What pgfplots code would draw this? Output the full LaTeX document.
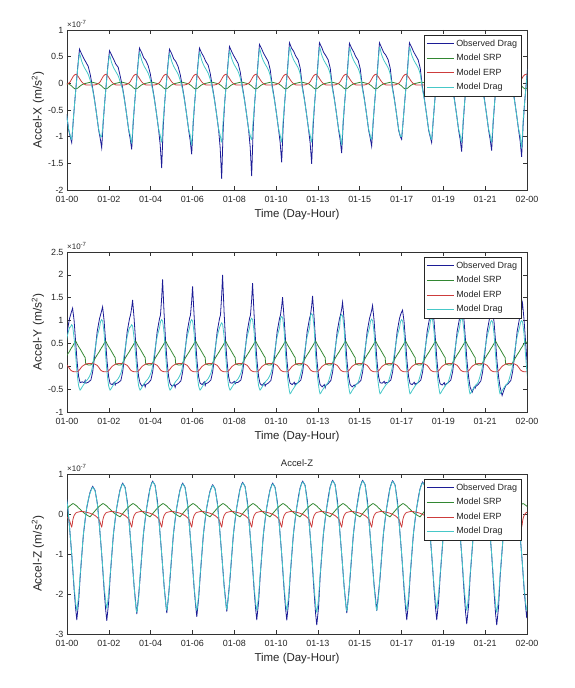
\documentclass[border=0pt]{standalone}
\usepackage{pgfplots}
\pgfplotsset{compat=1.18}
\usepackage{pgfplotstable}
\usepackage{fontspec}
\setmainfont{Liberation Sans}
\definecolor{cObs}{RGB}{28,28,150}
\definecolor{cSRP}{RGB}{50,135,50}
\definecolor{cERP}{RGB}{205,60,60}
\definecolor{cMod}{RGB}{70,200,200}

% u = orbit number (time axis), values in 1e-7 m/s^2
\pgfplotstableread{
u obs mod srp erp
-0.17 -0.58 -0.58 0.00 -0.02
-0.10 -0.88 -0.86 -0.01 0.00
-0.05 -1.00 -0.97 -0.03 0.03
0.00 -1.11 -1.05 -0.05 0.08
0.05 -0.72 -0.70 -0.08 0.13
0.10 -0.36 -0.36 -0.10 0.16
0.15 -0.03 -0.04 -0.10 0.17
0.20 0.30 0.27 -0.09 0.14
0.26 0.64 0.55 -0.06 0.09
0.33 0.55 0.42 -0.03 0.03
0.40 0.47 0.32 -0.01 -0.01
0.47 0.40 0.25 0.00 -0.03
0.55 0.32 0.17 0.01 -0.03
0.62 0.16 0.05 0.02 -0.03
0.69 -0.06 -0.10 0.02 -0.03
0.76 -0.30 -0.32 0.01 -0.03
0.83 -0.58 -0.58 0.00 -0.02
0.90 -0.88 -0.86 -0.01 0.00
0.95 -1.03 -0.97 -0.03 0.03
1.00 -1.21 -1.00 -0.05 0.08
1.05 -0.74 -0.70 -0.08 0.13
1.10 -0.36 -0.36 -0.10 0.16
1.15 -0.03 -0.04 -0.10 0.17
1.20 0.30 0.27 -0.09 0.14
1.26 0.61 0.52 -0.06 0.09
1.33 0.53 0.39 -0.03 0.03
1.40 0.45 0.29 -0.01 -0.01
1.47 0.36 0.22 0.00 -0.03
1.55 0.30 0.14 0.01 -0.03
1.62 0.13 0.02 0.02 -0.03
1.69 -0.06 -0.10 0.02 -0.03
1.76 -0.30 -0.32 0.01 -0.03
1.83 -0.58 -0.58 0.00 -0.02
1.90 -0.88 -0.86 -0.01 0.00
1.95 -1.04 -0.97 -0.03 0.03
2.00 -1.24 -1.12 -0.05 0.08
2.05 -0.75 -0.70 -0.08 0.13
2.10 -0.36 -0.36 -0.10 0.16
2.15 -0.03 -0.04 -0.10 0.17
2.20 0.30 0.27 -0.09 0.14
2.26 0.66 0.57 -0.06 0.09
2.33 0.58 0.44 -0.03 0.03
2.40 0.48 0.34 -0.01 -0.01
2.47 0.43 0.27 0.00 -0.03
2.55 0.33 0.19 0.01 -0.03
2.62 0.18 0.07 0.02 -0.03
2.69 -0.06 -0.10 0.02 -0.03
2.76 -0.30 -0.32 0.01 -0.03
2.83 -0.58 -0.58 0.00 -0.02
2.90 -0.88 -0.86 -0.01 0.00
2.95 -1.15 -0.97 -0.03 0.03
3.00 -1.59 -1.10 -0.05 0.08
3.05 -0.82 -0.70 -0.08 0.13
3.10 -0.36 -0.36 -0.10 0.16
3.15 -0.03 -0.04 -0.10 0.17
3.20 0.30 0.27 -0.09 0.14
3.26 0.64 0.55 -0.06 0.09
3.33 0.56 0.42 -0.03 0.03
3.40 0.46 0.32 -0.01 -0.01
3.47 0.41 0.25 0.00 -0.03
3.55 0.31 0.17 0.01 -0.03
3.62 0.16 0.05 0.02 -0.03
3.69 -0.06 -0.10 0.02 -0.03
3.76 -0.30 -0.32 0.01 -0.03
3.83 -0.58 -0.58 0.00 -0.02
3.90 -0.88 -0.86 -0.01 0.00
3.95 -1.07 -0.97 -0.03 0.03
4.00 -1.33 -1.15 -0.05 0.08
4.05 -0.77 -0.70 -0.08 0.13
4.10 -0.36 -0.36 -0.10 0.16
4.15 -0.03 -0.04 -0.10 0.17
4.20 0.30 0.27 -0.09 0.14
4.26 0.66 0.57 -0.06 0.09
4.33 0.57 0.44 -0.03 0.03
4.40 0.50 0.34 -0.01 -0.01
4.47 0.41 0.27 0.00 -0.03
4.55 0.34 0.19 0.01 -0.03
4.62 0.18 0.07 0.02 -0.03
4.69 -0.06 -0.10 0.02 -0.03
4.76 -0.30 -0.32 0.01 -0.03
4.83 -0.58 -0.58 0.00 -0.02
4.90 -0.88 -0.86 -0.01 0.00
4.95 -1.21 -0.97 -0.03 0.03
5.00 -1.79 -1.10 -0.05 0.08
5.05 -0.86 -0.70 -0.08 0.13
5.10 -0.36 -0.36 -0.10 0.16
5.15 -0.03 -0.04 -0.10 0.17
5.20 0.30 0.27 -0.09 0.14
5.26 0.69 0.60 -0.06 0.09
5.33 0.60 0.47 -0.03 0.03
5.40 0.52 0.37 -0.01 -0.01
5.47 0.45 0.30 0.00 -0.03
5.55 0.37 0.22 0.01 -0.03
5.62 0.21 0.10 0.02 -0.03
5.69 -0.06 -0.10 0.02 -0.03
5.76 -0.30 -0.32 0.01 -0.03
5.83 -0.58 -0.58 0.00 -0.02
5.90 -0.88 -0.86 -0.01 0.00
5.95 -1.19 -0.97 -0.03 0.03
6.00 -1.74 -1.05 -0.05 0.08
6.05 -0.85 -0.70 -0.08 0.13
6.10 -0.36 -0.36 -0.10 0.16
6.15 -0.03 -0.04 -0.10 0.17
6.20 0.30 0.27 -0.09 0.14
6.26 0.73 0.64 -0.06 0.09
6.33 0.65 0.51 -0.03 0.03
6.40 0.56 0.41 -0.01 -0.01
6.47 0.49 0.34 0.00 -0.03
6.55 0.41 0.26 0.01 -0.03
6.62 0.25 0.14 0.02 -0.03
6.69 -0.06 -0.10 0.02 -0.03
6.76 -0.30 -0.32 0.01 -0.03
6.83 -0.58 -0.58 0.00 -0.02
6.90 -0.88 -0.86 -0.01 0.00
6.95 -1.11 -0.97 -0.03 0.03
7.00 -1.48 -1.10 -0.05 0.08
7.05 -0.80 -0.70 -0.08 0.13
7.10 -0.36 -0.36 -0.10 0.16
7.15 -0.03 -0.04 -0.10 0.17
7.20 0.30 0.27 -0.09 0.14
7.26 0.76 0.67 -0.06 0.09
7.33 0.66 0.54 -0.03 0.03
7.40 0.60 0.44 -0.01 -0.01
7.47 0.51 0.37 0.00 -0.03
7.55 0.44 0.29 0.01 -0.03
7.62 0.28 0.17 0.02 -0.03
7.69 -0.06 -0.10 0.02 -0.03
7.76 -0.30 -0.32 0.01 -0.03
7.83 -0.58 -0.58 0.00 -0.02
7.90 -0.88 -0.86 -0.01 0.00
7.95 -1.12 -0.97 -0.03 0.03
8.00 -1.51 -1.10 -0.05 0.08
8.05 -0.80 -0.70 -0.08 0.13
8.10 -0.36 -0.36 -0.10 0.16
8.15 -0.03 -0.04 -0.10 0.17
8.20 0.30 0.27 -0.09 0.14
8.26 0.76 0.67 -0.06 0.09
8.33 0.68 0.54 -0.03 0.03
8.40 0.58 0.44 -0.01 -0.01
8.47 0.52 0.37 0.00 -0.03
8.55 0.44 0.29 0.01 -0.03
8.62 0.28 0.17 0.02 -0.03
8.69 -0.06 -0.10 0.02 -0.03
8.76 -0.30 -0.32 0.01 -0.03
8.83 -0.58 -0.58 0.00 -0.02
8.90 -0.88 -0.86 -0.01 0.00
8.95 -1.06 -0.97 -0.03 0.03
9.00 -1.31 -1.15 -0.05 0.08
9.05 -0.76 -0.70 -0.08 0.13
9.10 -0.36 -0.36 -0.10 0.16
9.15 -0.03 -0.04 -0.10 0.17
9.20 0.30 0.27 -0.09 0.14
9.26 0.75 0.66 -0.06 0.09
9.33 0.66 0.53 -0.03 0.03
9.40 0.59 0.43 -0.01 -0.01
9.47 0.50 0.36 0.00 -0.03
9.55 0.43 0.28 0.01 -0.03
9.62 0.27 0.16 0.02 -0.03
9.69 -0.06 -0.10 0.02 -0.03
9.76 -0.30 -0.32 0.01 -0.03
9.83 -0.58 -0.58 0.00 -0.02
9.90 -0.88 -0.86 -0.01 0.00
9.95 -1.02 -0.97 -0.03 0.03
10.00 -1.18 -1.05 -0.05 0.08
10.05 -0.74 -0.70 -0.08 0.13
10.10 -0.36 -0.36 -0.10 0.16
10.15 -0.03 -0.04 -0.10 0.17
10.20 0.30 0.27 -0.09 0.14
10.26 0.76 0.67 -0.06 0.09
10.33 0.67 0.54 -0.03 0.03
10.40 0.58 0.44 -0.01 -0.01
10.47 0.53 0.37 0.00 -0.03
10.55 0.44 0.29 0.01 -0.03
10.62 0.28 0.17 0.02 -0.03
10.69 -0.06 -0.10 0.02 -0.03
10.76 -0.30 -0.32 0.01 -0.03
10.83 -0.58 -0.58 0.00 -0.02
10.90 -0.88 -0.86 -0.01 0.00
10.95 -0.99 -0.97 -0.03 0.03
11.00 -1.05 -1.00 -0.05 0.08
11.05 -0.71 -0.70 -0.08 0.13
11.10 -0.36 -0.36 -0.10 0.16
11.15 -0.03 -0.04 -0.10 0.17
11.20 0.30 0.27 -0.09 0.14
11.26 0.76 0.67 -0.06 0.09
11.33 0.68 0.54 -0.03 0.03
11.40 0.59 0.44 -0.01 -0.01
11.47 0.52 0.37 0.00 -0.03
11.55 0.44 0.29 0.01 -0.03
11.62 0.28 0.17 0.02 -0.03
11.69 -0.06 -0.10 0.02 -0.03
11.76 -0.30 -0.32 0.01 -0.03
11.83 -0.58 -0.58 0.00 -0.02
11.90 -0.88 -0.86 -0.01 0.00
11.95 -1.00 -0.97 -0.03 0.03
12.00 -1.11 -1.05 -0.05 0.08
12.05 -0.72 -0.70 -0.08 0.13
12.10 -0.36 -0.36 -0.10 0.16
12.15 -0.03 -0.04 -0.10 0.17
12.20 0.30 0.27 -0.09 0.14
12.26 0.72 0.63 -0.06 0.09
12.33 0.63 0.50 -0.03 0.03
12.40 0.56 0.40 -0.01 -0.01
12.47 0.47 0.33 0.00 -0.03
12.55 0.40 0.25 0.01 -0.03
12.62 0.24 0.13 0.02 -0.03
12.69 -0.06 -0.10 0.02 -0.03
12.76 -0.30 -0.32 0.01 -0.03
12.83 -0.58 -0.58 0.00 -0.02
12.90 -0.88 -0.86 -0.01 0.00
12.95 -1.05 -0.97 -0.03 0.03
13.00 -1.28 -1.10 -0.05 0.08
13.05 -0.76 -0.70 -0.08 0.13
13.10 -0.36 -0.36 -0.10 0.16
13.15 -0.03 -0.04 -0.10 0.17
13.20 0.30 0.27 -0.09 0.14
13.26 0.70 0.61 -0.06 0.09
13.33 0.62 0.48 -0.03 0.03
13.40 0.52 0.38 -0.01 -0.01
13.47 0.47 0.31 0.00 -0.03
13.55 0.38 0.23 0.01 -0.03
13.62 0.22 0.11 0.02 -0.03
13.69 -0.06 -0.10 0.02 -0.03
13.76 -0.30 -0.32 0.01 -0.03
13.83 -0.58 -0.58 0.00 -0.02
13.90 -0.88 -0.86 -0.01 0.00
13.95 -1.05 -0.97 -0.03 0.03
14.00 -1.26 -1.10 -0.05 0.08
14.05 -0.75 -0.70 -0.08 0.13
14.10 -0.36 -0.36 -0.10 0.16
14.15 -0.03 -0.04 -0.10 0.17
14.20 0.30 0.27 -0.09 0.14
14.26 0.70 0.61 -0.06 0.09
14.33 0.61 0.48 -0.03 0.03
14.40 0.54 0.38 -0.01 -0.01
14.47 0.45 0.31 0.00 -0.03
14.55 0.38 0.23 0.01 -0.03
14.62 0.22 0.11 0.02 -0.03
14.69 -0.06 -0.10 0.02 -0.03
14.76 -0.30 -0.32 0.01 -0.03
14.83 -0.58 -0.58 0.00 -0.02
14.90 -0.88 -0.86 -0.01 0.00
14.95 -1.08 -0.97 -0.03 0.03
15.00 -1.38 -1.20 -0.05 0.08
15.05 -0.78 -0.70 -0.08 0.13
15.10 -0.36 -0.36 -0.10 0.16
15.15 -0.03 -0.04 -0.10 0.17
15.20 0.30 0.27 -0.09 0.14
}\tabX

\pgfplotstableread{
u obs mod srp erp
-0.24 0.20 0.30 0.15 0.05
-0.15 0.76 0.65 0.25 0.02
-0.07 1.05 0.85 0.33 -0.05
-0.04 1.12 0.86 0.37 -0.08
0.00 1.21 0.91 0.41 -0.10
0.03 1.27 0.88 0.44 -0.11
0.08 1.00 0.61 0.50 -0.12
0.13 0.55 0.25 0.55 -0.12
0.18 0.10 -0.15 0.49 -0.12
0.23 -0.22 -0.42 0.43 -0.10
0.28 -0.36 -0.52 0.38 -0.06
0.35 -0.34 -0.45 0.30 0.00
0.42 -0.36 -0.38 0.22 0.03
0.45 -0.31 -0.35 0.19 0.04
0.47 -0.37 -0.33 0.05 0.05
0.55 -0.35 -0.27 0.03 0.06
0.64 -0.30 -0.15 0.03 0.06
0.70 -0.12 0.02 0.08 0.06
0.76 0.20 0.30 0.15 0.05
0.85 0.76 0.65 0.25 0.02
0.93 1.05 0.85 0.33 -0.05
0.96 1.12 0.97 0.37 -0.08
1.00 1.22 1.02 0.41 -0.10
1.03 1.30 0.99 0.44 -0.11
1.08 1.00 0.72 0.50 -0.12
1.13 0.55 0.25 0.55 -0.12
1.18 0.10 -0.15 0.49 -0.12
1.23 -0.22 -0.42 0.43 -0.10
1.28 -0.38 -0.52 0.38 -0.06
1.35 -0.40 -0.45 0.30 0.00
1.42 -0.35 -0.38 0.22 0.03
1.45 -0.41 -0.35 0.19 0.04
1.47 -0.38 -0.33 0.05 0.05
1.55 -0.36 -0.27 0.03 0.06
1.64 -0.31 -0.15 0.03 0.06
1.70 -0.12 0.02 0.08 0.06
1.76 0.20 0.30 0.15 0.05
1.85 0.76 0.65 0.25 0.02
1.93 1.05 0.85 0.33 -0.05
1.96 1.12 0.86 0.37 -0.08
2.00 1.28 0.91 0.41 -0.10
2.03 1.45 0.88 0.44 -0.11
2.08 1.05 0.61 0.50 -0.12
2.13 0.55 0.25 0.55 -0.12
2.18 0.10 -0.15 0.49 -0.12
2.23 -0.22 -0.42 0.43 -0.10
2.28 -0.37 -0.52 0.38 -0.06
2.35 -0.44 -0.45 0.30 0.00
2.42 -0.38 -0.38 0.22 0.03
2.45 -0.45 -0.35 0.19 0.04
2.47 -0.40 -0.33 0.05 0.05
2.55 -0.37 -0.27 0.03 0.06
2.64 -0.30 -0.15 0.03 0.06
2.70 -0.12 0.02 0.08 0.06
2.76 0.20 0.30 0.15 0.05
2.85 0.76 0.65 0.25 0.02
2.93 1.05 0.85 0.33 -0.05
2.96 1.12 0.97 0.37 -0.08
3.00 1.50 1.02 0.41 -0.10
3.03 1.90 0.99 0.44 -0.11
3.08 1.16 0.72 0.50 -0.12
3.13 0.55 0.25 0.55 -0.12
3.18 0.10 -0.15 0.49 -0.12
3.23 -0.22 -0.42 0.43 -0.10
3.28 -0.38 -0.52 0.38 -0.06
3.35 -0.44 -0.45 0.30 0.00
3.42 -0.40 -0.38 0.22 0.03
3.45 -0.46 -0.35 0.19 0.04
3.47 -0.41 -0.33 0.05 0.05
3.55 -0.38 -0.27 0.03 0.06
3.64 -0.32 -0.15 0.03 0.06
3.70 -0.12 0.02 0.08 0.06
3.76 0.20 0.30 0.15 0.05
3.85 0.76 0.65 0.25 0.02
3.93 1.05 0.85 0.33 -0.05
3.96 1.12 0.97 0.37 -0.08
4.00 1.43 1.02 0.41 -0.10
4.03 1.75 0.99 0.44 -0.11
4.08 1.12 0.72 0.50 -0.12
4.13 0.55 0.25 0.55 -0.12
4.18 0.10 -0.15 0.49 -0.12
4.23 -0.22 -0.42 0.43 -0.10
4.28 -0.37 -0.52 0.38 -0.06
4.35 -0.40 -0.45 0.30 0.00
4.42 -0.34 -0.38 0.22 0.03
4.45 -0.42 -0.35 0.19 0.04
4.47 -0.38 -0.33 0.05 0.05
4.55 -0.36 -0.27 0.03 0.06
4.64 -0.30 -0.15 0.03 0.06
4.70 -0.12 0.02 0.08 0.06
4.76 0.20 0.30 0.15 0.05
4.85 0.76 0.65 0.25 0.02
4.93 1.05 0.85 0.33 -0.05
4.96 1.12 0.90 0.37 -0.08
5.00 1.55 0.95 0.41 -0.10
5.03 2.00 0.92 0.44 -0.11
5.08 1.19 0.65 0.50 -0.12
5.13 0.55 0.25 0.55 -0.12
5.18 0.10 -0.15 0.49 -0.12
5.23 -0.22 -0.42 0.43 -0.10
5.28 -0.36 -0.52 0.38 -0.06
5.35 -0.37 -0.45 0.30 0.00
5.42 -0.33 -0.38 0.22 0.03
5.45 -0.38 -0.35 0.19 0.04
5.47 -0.36 -0.33 0.05 0.05
5.55 -0.35 -0.27 0.03 0.06
5.64 -0.30 -0.15 0.03 0.06
5.70 -0.12 0.02 0.08 0.06
5.76 0.20 0.30 0.15 0.05
5.85 0.76 0.65 0.25 0.02
5.93 1.05 0.85 0.33 -0.05
5.96 1.12 1.00 0.37 -0.08
6.00 1.46 1.05 0.41 -0.10
6.03 1.82 1.02 0.44 -0.11
6.08 1.14 0.75 0.50 -0.12
6.13 0.55 0.25 0.55 -0.12
6.18 0.10 -0.15 0.49 -0.12
6.23 -0.22 -0.42 0.43 -0.10
6.28 -0.38 -0.52 0.38 -0.06
6.35 -0.42 -0.45 0.30 0.00
6.42 -0.36 -0.38 0.22 0.03
6.45 -0.43 -0.35 0.19 0.04
6.47 -0.40 -0.33 0.05 0.05
6.55 -0.37 -0.27 0.03 0.06
6.64 -0.31 -0.15 0.03 0.06
6.70 -0.12 0.02 0.08 0.06
6.76 0.20 0.30 0.15 0.05
6.85 0.76 0.65 0.25 0.02
6.93 1.05 0.85 0.33 -0.05
6.96 1.12 1.04 0.37 -0.08
7.00 1.31 1.09 0.41 -0.10
7.03 1.51 1.06 0.44 -0.11
7.08 1.06 0.79 0.50 -0.12
7.13 0.55 0.25 0.55 -0.12
7.18 0.10 -0.15 0.49 -0.12
7.23 -0.22 -0.42 0.43 -0.10
7.28 -0.37 -0.60 0.38 -0.06
7.35 -0.40 -0.53 0.30 0.00
7.42 -0.35 -0.46 0.22 0.03
7.45 -0.41 -0.43 0.19 0.04
7.47 -0.38 -0.41 0.05 0.05
7.55 -0.36 -0.35 0.03 0.06
7.64 -0.30 -0.15 0.03 0.06
7.70 -0.12 0.02 0.08 0.06
7.76 0.20 0.30 0.15 0.05
7.85 0.76 0.65 0.25 0.02
7.93 1.05 0.85 0.33 -0.05
7.96 1.12 1.10 0.37 -0.08
8.00 1.32 1.15 0.41 -0.10
8.03 1.54 1.12 0.44 -0.11
8.08 1.07 0.85 0.50 -0.12
8.13 0.55 0.25 0.55 -0.12
8.18 0.10 -0.15 0.49 -0.12
8.23 -0.22 -0.42 0.43 -0.10
8.28 -0.40 -0.60 0.38 -0.06
8.35 -0.45 -0.53 0.30 0.00
8.42 -0.40 -0.46 0.22 0.03
8.45 -0.47 -0.43 0.19 0.04
8.47 -0.42 -0.41 0.05 0.05
8.55 -0.38 -0.35 0.03 0.06
8.64 -0.31 -0.15 0.03 0.06
8.70 -0.12 0.02 0.08 0.06
8.76 0.20 0.30 0.15 0.05
8.85 0.76 0.65 0.25 0.02
8.93 1.05 0.85 0.33 -0.05
8.96 1.12 1.08 0.37 -0.08
9.00 1.25 1.13 0.41 -0.10
9.03 1.40 1.10 0.44 -0.11
9.08 1.03 0.83 0.50 -0.12
9.13 0.55 0.25 0.55 -0.12
9.18 0.10 -0.15 0.49 -0.12
9.23 -0.22 -0.42 0.43 -0.10
9.28 -0.40 -0.60 0.38 -0.06
9.35 -0.45 -0.53 0.30 0.00
9.42 -0.41 -0.46 0.22 0.03
9.45 -0.44 -0.43 0.19 0.04
9.47 -0.40 -0.41 0.05 0.05
9.55 -0.37 -0.35 0.03 0.06
9.64 -0.31 -0.15 0.03 0.06
9.70 -0.12 0.02 0.08 0.06
9.76 0.20 0.30 0.15 0.05
9.85 0.76 0.65 0.25 0.02
9.93 1.05 0.85 0.33 -0.05
9.96 1.12 0.98 0.37 -0.08
10.00 1.22 1.03 0.41 -0.10
10.03 1.33 1.00 0.44 -0.11
10.08 1.01 0.73 0.50 -0.12
10.13 0.55 0.25 0.55 -0.12
10.18 0.10 -0.15 0.49 -0.12
10.23 -0.22 -0.42 0.43 -0.10
10.28 -0.36 -0.60 0.38 -0.06
10.35 -0.37 -0.53 0.30 0.00
10.42 -0.33 -0.46 0.22 0.03
10.45 -0.38 -0.43 0.19 0.04
10.47 -0.36 -0.41 0.05 0.05
10.55 -0.35 -0.35 0.03 0.06
10.64 -0.30 -0.15 0.03 0.06
10.70 -0.12 0.02 0.08 0.06
10.76 0.20 0.30 0.15 0.05
10.85 0.76 0.65 0.25 0.02
10.93 1.05 0.85 0.33 -0.05
10.96 1.12 0.97 0.37 -0.08
11.00 1.19 1.02 0.41 -0.10
11.03 1.23 0.99 0.44 -0.11
11.08 0.98 0.72 0.50 -0.12
11.13 0.55 0.25 0.55 -0.12
11.18 0.10 -0.15 0.49 -0.12
11.23 -0.22 -0.42 0.43 -0.10
11.28 -0.38 -0.60 0.38 -0.06
11.35 -0.40 -0.53 0.30 0.00
11.42 -0.35 -0.46 0.22 0.03
11.45 -0.40 -0.43 0.19 0.04
11.47 -0.38 -0.41 0.05 0.05
11.55 -0.36 -0.35 0.03 0.06
11.64 -0.30 -0.15 0.03 0.06
11.70 -0.12 0.02 0.08 0.06
11.76 0.20 0.30 0.15 0.05
11.85 0.76 0.65 0.25 0.02
11.93 1.05 0.85 0.33 -0.05
11.96 1.12 1.00 0.37 -0.08
12.00 1.20 1.05 0.41 -0.10
12.03 1.25 1.02 0.44 -0.11
12.08 0.99 0.75 0.50 -0.12
12.13 0.55 0.25 0.55 -0.12
12.18 0.10 -0.15 0.49 -0.12
12.23 -0.22 -0.42 0.43 -0.10
12.28 -0.38 -0.60 0.38 -0.06
12.35 -0.41 -0.53 0.30 0.00
12.42 -0.36 -0.46 0.22 0.03
12.45 -0.42 -0.43 0.19 0.04
12.47 -0.39 -0.41 0.05 0.05
12.55 -0.36 -0.35 0.03 0.06
12.64 -0.30 -0.15 0.03 0.06
12.70 -0.12 0.02 0.08 0.06
12.76 0.20 0.30 0.15 0.05
12.85 0.76 0.65 0.25 0.02
12.93 1.05 0.85 0.33 -0.05
12.96 1.12 1.00 0.37 -0.08
13.00 1.22 1.05 0.41 -0.10
13.03 1.30 1.02 0.44 -0.11
13.08 1.00 0.75 0.50 -0.12
13.13 0.55 0.25 0.55 -0.12
13.18 0.10 -0.15 0.49 -0.12
13.23 -0.22 -0.42 0.43 -0.10
13.28 -0.45 -0.60 0.38 -0.06
13.35 -0.57 -0.53 0.30 0.00
13.42 -0.45 -0.46 0.22 0.03
13.45 -0.48 -0.43 0.19 0.04
13.47 -0.44 -0.41 0.05 0.05
13.55 -0.40 -0.35 0.03 0.06
13.64 -0.32 -0.15 0.03 0.06
13.70 -0.12 0.02 0.08 0.06
13.76 0.20 0.30 0.15 0.05
13.85 0.76 0.65 0.25 0.02
13.93 1.05 0.85 0.33 -0.05
13.96 1.12 0.95 0.37 -0.08
14.00 1.17 1.00 0.41 -0.10
14.03 1.20 0.97 0.44 -0.11
14.08 0.97 0.70 0.50 -0.12
14.13 0.55 0.25 0.55 -0.12
14.18 0.10 -0.15 0.49 -0.12
14.23 -0.22 -0.42 0.43 -0.10
14.28 -0.45 -0.60 0.38 -0.06
14.35 -0.64 -0.53 0.30 0.00
14.42 -0.50 -0.46 0.22 0.03
14.45 -0.46 -0.43 0.19 0.04
14.47 -0.42 -0.41 0.05 0.05
14.55 -0.38 -0.35 0.03 0.06
14.64 -0.31 -0.15 0.03 0.06
14.70 -0.12 0.02 0.08 0.06
14.76 0.20 0.30 0.15 0.05
14.85 0.76 0.65 0.25 0.02
14.93 1.05 0.85 0.33 -0.05
14.96 1.12 0.95 0.37 -0.08
15.00 1.24 1.00 0.41 -0.10
15.03 1.38 0.97 0.44 -0.11
15.08 1.02 0.70 0.50 -0.12
15.13 0.55 0.25 0.55 -0.12
15.18 0.10 -0.15 0.49 -0.12
15.23 -0.22 -0.42 0.43 -0.10
}\tabY

\pgfplotstableread{
u obs mod srp erp
-0.22 0.60 0.58 0.08 -0.04
-0.14 0.25 0.22 0.15 -0.09
-0.07 -0.35 -0.35 0.20 -0.17
0.00 -1.00 -1.00 0.24 -0.32
0.04 -1.43 -1.40 0.26 -0.14
0.08 -1.88 -1.80 0.25 -0.04
0.13 -2.35 -2.20 0.22 0.02
0.17 -2.65 -2.40 0.20 0.04
0.23 -2.20 -2.05 0.15 0.05
0.28 -1.60 -1.55 0.12 0.06
0.34 -1.00 -0.98 0.07 0.06
0.39 -0.52 -0.50 0.04 0.06
0.45 -0.14 -0.12 0.00 0.05
0.50 0.15 0.16 -0.02 0.04
0.56 0.37 0.38 -0.05 0.03
0.61 0.54 0.52 -0.07 0.02
0.67 0.65 0.63 -0.02 0.00
0.70 0.69 0.67 0.01 -0.01
0.78 0.59 0.57 0.08 -0.04
0.86 0.24 0.22 0.15 -0.09
0.93 -0.35 -0.35 0.20 -0.17
1.00 -1.00 -1.00 0.24 -0.32
1.04 -1.44 -1.40 0.26 -0.14
1.08 -1.89 -1.80 0.25 -0.04
1.13 -2.37 -2.15 0.22 0.02
1.17 -2.67 -2.35 0.20 0.04
1.23 -2.22 -2.00 0.15 0.05
1.28 -1.60 -1.55 0.12 0.06
1.34 -1.00 -0.98 0.07 0.06
1.39 -0.52 -0.50 0.04 0.06
1.45 -0.14 -0.12 0.00 0.05
1.50 0.15 0.16 -0.02 0.04
1.56 0.41 0.38 -0.05 0.03
1.61 0.60 0.58 -0.07 0.02
1.67 0.73 0.71 -0.02 0.00
1.70 0.77 0.75 0.01 -0.01
1.78 0.67 0.65 0.08 -0.04
1.86 0.28 0.22 0.15 -0.09
1.93 -0.35 -0.35 0.20 -0.17
2.00 -1.00 -1.00 0.24 -0.32
2.04 -1.40 -1.40 0.26 -0.14
2.08 -1.80 -1.80 0.25 -0.04
2.13 -2.20 -2.25 0.22 0.02
2.17 -2.50 -2.45 0.20 0.04
2.23 -2.05 -2.10 0.15 0.05
2.28 -1.60 -1.55 0.12 0.06
2.34 -1.00 -0.98 0.07 0.06
2.39 -0.52 -0.50 0.04 0.06
2.45 -0.14 -0.12 0.00 0.05
2.50 0.15 0.16 -0.02 0.04
2.56 0.44 0.38 -0.05 0.03
2.61 0.64 0.62 -0.07 0.02
2.67 0.78 0.76 -0.02 0.00
2.70 0.82 0.80 0.01 -0.01
2.78 0.72 0.70 0.08 -0.04
2.86 0.31 0.22 0.15 -0.09
2.93 -0.35 -0.35 0.20 -0.17
3.00 -1.00 -1.00 0.24 -0.32
3.04 -1.39 -1.40 0.26 -0.14
3.08 -1.79 -1.80 0.25 -0.04
3.13 -2.18 -2.20 0.22 0.02
3.17 -2.48 -2.40 0.20 0.04
3.23 -2.03 -2.05 0.15 0.05
3.28 -1.60 -1.55 0.12 0.06
3.34 -1.00 -0.98 0.07 0.06
3.39 -0.52 -0.50 0.04 0.06
3.45 -0.14 -0.12 0.00 0.05
3.50 0.15 0.16 -0.02 0.04
3.56 0.41 0.38 -0.05 0.03
3.61 0.60 0.58 -0.07 0.02
3.67 0.73 0.71 -0.02 0.00
3.70 0.77 0.75 0.01 -0.01
3.78 0.67 0.65 0.08 -0.04
3.86 0.28 0.22 0.15 -0.09
3.93 -0.35 -0.35 0.20 -0.17
4.00 -1.00 -1.00 0.24 -0.32
4.04 -1.41 -1.40 0.26 -0.14
4.08 -1.84 -1.80 0.25 -0.04
4.13 -2.27 -2.20 0.22 0.02
4.17 -2.57 -2.40 0.20 0.04
4.23 -2.12 -2.05 0.15 0.05
4.28 -1.60 -1.55 0.12 0.06
4.34 -1.00 -0.98 0.07 0.06
4.39 -0.52 -0.50 0.04 0.06
4.45 -0.14 -0.12 0.00 0.05
4.50 0.15 0.16 -0.02 0.04
4.56 0.39 0.38 -0.05 0.03
4.61 0.57 0.55 -0.07 0.02
4.67 0.69 0.67 -0.02 0.00
4.70 0.73 0.71 0.01 -0.01
4.78 0.63 0.61 0.08 -0.04
4.86 0.26 0.22 0.15 -0.09
4.93 -0.35 -0.35 0.20 -0.17
5.00 -1.00 -1.00 0.24 -0.32
5.04 -1.38 -1.40 0.26 -0.14
5.08 -1.77 -1.80 0.25 -0.04
5.13 -2.14 -2.18 0.22 0.02
5.17 -2.44 -2.38 0.20 0.04
5.23 -1.99 -2.03 0.15 0.05
5.28 -1.60 -1.55 0.12 0.06
5.34 -1.00 -0.98 0.07 0.06
5.39 -0.52 -0.50 0.04 0.06
5.45 -0.14 -0.12 0.00 0.05
5.50 0.15 0.16 -0.02 0.04
5.56 0.42 0.38 -0.05 0.03
5.61 0.62 0.60 -0.07 0.02
5.67 0.75 0.73 -0.02 0.00
5.70 0.79 0.77 0.01 -0.01
5.78 0.69 0.67 0.08 -0.04
5.86 0.29 0.22 0.15 -0.09
5.93 -0.35 -0.35 0.20 -0.17
6.00 -1.00 -1.00 0.24 -0.32
6.04 -1.43 -1.40 0.26 -0.14
6.08 -1.88 -1.80 0.25 -0.04
6.13 -2.35 -2.20 0.22 0.02
6.17 -2.65 -2.40 0.20 0.04
6.23 -2.20 -2.05 0.15 0.05
6.28 -1.60 -1.55 0.12 0.06
6.34 -1.00 -0.98 0.07 0.06
6.39 -0.52 -0.50 0.04 0.06
6.45 -0.14 -0.12 0.00 0.05
6.50 0.15 0.16 -0.02 0.04
6.56 0.41 0.38 -0.05 0.03
6.61 0.60 0.58 -0.07 0.02
6.67 0.73 0.71 -0.02 0.00
6.70 0.77 0.75 0.01 -0.01
6.78 0.67 0.65 0.08 -0.04
6.86 0.28 0.22 0.15 -0.09
6.93 -0.35 -0.35 0.20 -0.17
7.00 -1.00 -1.00 0.24 -0.32
7.04 -1.44 -1.40 0.26 -0.14
7.08 -1.88 -1.80 0.25 -0.04
7.13 -2.36 -2.20 0.22 0.02
7.17 -2.66 -2.40 0.20 0.04
7.23 -2.21 -2.05 0.15 0.05
7.28 -1.60 -1.55 0.12 0.06
7.34 -1.00 -0.98 0.07 0.06
7.39 -0.52 -0.50 0.04 0.06
7.45 -0.14 -0.12 0.00 0.05
7.50 0.15 0.16 -0.02 0.04
7.56 0.44 0.38 -0.05 0.03
7.61 0.64 0.62 -0.07 0.02
7.67 0.78 0.76 -0.02 0.00
7.70 0.82 0.80 0.01 -0.01
7.78 0.72 0.70 0.08 -0.04
7.86 0.31 0.22 0.15 -0.09
7.93 -0.35 -0.35 0.20 -0.17
8.00 -1.00 -1.00 0.24 -0.32
8.04 -1.47 -1.40 0.26 -0.14
8.08 -1.94 -1.80 0.25 -0.04
8.13 -2.48 -2.25 0.22 0.02
8.17 -2.78 -2.45 0.20 0.04
8.23 -2.33 -2.10 0.15 0.05
8.28 -1.60 -1.55 0.12 0.06
8.34 -1.00 -0.98 0.07 0.06
8.39 -0.52 -0.50 0.04 0.06
8.45 -0.14 -0.12 0.00 0.05
8.50 0.15 0.16 -0.02 0.04
8.56 0.45 0.38 -0.05 0.03
8.61 0.66 0.64 -0.07 0.02
8.67 0.80 0.78 -0.02 0.00
8.70 0.84 0.82 0.01 -0.01
8.78 0.74 0.72 0.08 -0.04
8.86 0.32 0.22 0.15 -0.09
8.93 -0.35 -0.35 0.20 -0.17
9.00 -1.00 -1.00 0.24 -0.32
9.04 -1.39 -1.40 0.26 -0.14
9.08 -1.79 -1.80 0.25 -0.04
9.13 -2.18 -2.22 0.22 0.02
9.17 -2.48 -2.42 0.20 0.04
9.23 -2.03 -2.07 0.15 0.05
9.28 -1.60 -1.55 0.12 0.06
9.34 -1.00 -0.98 0.07 0.06
9.39 -0.52 -0.50 0.04 0.06
9.45 -0.14 -0.12 0.00 0.05
9.50 0.15 0.16 -0.02 0.04
9.56 0.45 0.38 -0.05 0.03
9.61 0.66 0.64 -0.07 0.02
9.67 0.80 0.78 -0.02 0.00
9.70 0.84 0.82 0.01 -0.01
9.78 0.74 0.72 0.08 -0.04
9.86 0.32 0.22 0.15 -0.09
9.93 -0.35 -0.35 0.20 -0.17
10.00 -1.00 -1.00 0.24 -0.32
10.04 -1.38 -1.40 0.26 -0.14
10.08 -1.76 -1.80 0.25 -0.04
10.13 -2.12 -2.20 0.22 0.02
10.17 -2.42 -2.40 0.20 0.04
10.23 -1.97 -2.05 0.15 0.05
10.28 -1.60 -1.55 0.12 0.06
10.34 -1.00 -0.98 0.07 0.06
10.39 -0.52 -0.50 0.04 0.06
10.45 -0.14 -0.12 0.00 0.05
10.50 0.15 0.16 -0.02 0.04
10.56 0.44 0.38 -0.05 0.03
10.61 0.65 0.63 -0.07 0.02
10.67 0.79 0.77 -0.02 0.00
10.70 0.83 0.81 0.01 -0.01
10.78 0.73 0.71 0.08 -0.04
10.86 0.31 0.22 0.15 -0.09
10.93 -0.35 -0.35 0.20 -0.17
11.00 -1.00 -1.00 0.24 -0.32
11.04 -1.43 -1.40 0.26 -0.14
11.08 -1.88 -1.80 0.25 -0.04
11.13 -2.35 -2.20 0.22 0.02
11.17 -2.65 -2.40 0.20 0.04
11.23 -2.20 -2.05 0.15 0.05
11.28 -1.60 -1.55 0.12 0.06
11.34 -1.00 -0.98 0.07 0.06
11.39 -0.52 -0.50 0.04 0.06
11.45 -0.14 -0.12 0.00 0.05
11.50 0.15 0.16 -0.02 0.04
11.56 0.43 0.38 -0.05 0.03
11.61 0.62 0.61 -0.07 0.02
11.67 0.76 0.74 -0.02 0.00
11.70 0.80 0.78 0.01 -0.01
11.78 0.70 0.68 0.08 -0.04
11.86 0.30 0.22 0.15 -0.09
11.93 -0.35 -0.35 0.20 -0.17
12.00 -1.00 -1.00 0.24 -0.32
12.04 -1.43 -1.40 0.26 -0.14
12.08 -1.88 -1.80 0.25 -0.04
12.13 -2.35 -2.15 0.22 0.02
12.17 -2.65 -2.35 0.20 0.04
12.23 -2.20 -2.00 0.15 0.05
12.28 -1.60 -1.55 0.12 0.06
12.34 -1.00 -0.98 0.07 0.06
12.39 -0.52 -0.50 0.04 0.06
12.45 -0.14 -0.12 0.00 0.05
12.50 0.15 0.16 -0.02 0.04
12.56 0.43 0.38 -0.05 0.03
12.61 0.62 0.61 -0.07 0.02
12.67 0.76 0.74 -0.02 0.00
12.70 0.80 0.78 0.01 -0.01
12.78 0.70 0.68 0.08 -0.04
12.86 0.30 0.22 0.15 -0.09
12.93 -0.35 -0.35 0.20 -0.17
13.00 -1.00 -1.00 0.24 -0.32
13.04 -1.46 -1.40 0.26 -0.14
13.08 -1.93 -1.80 0.25 -0.04
13.13 -2.45 -2.20 0.22 0.02
13.17 -2.75 -2.40 0.20 0.04
13.23 -2.30 -2.05 0.15 0.05
13.28 -1.60 -1.55 0.12 0.06
13.34 -1.00 -0.98 0.07 0.06
13.39 -0.52 -0.50 0.04 0.06
13.45 -0.14 -0.12 0.00 0.05
13.50 0.15 0.16 -0.02 0.04
13.56 0.43 0.38 -0.05 0.03
13.61 0.62 0.61 -0.07 0.02
13.67 0.76 0.74 -0.02 0.00
13.70 0.80 0.78 0.01 -0.01
13.78 0.70 0.68 0.08 -0.04
13.86 0.30 0.22 0.15 -0.09
13.93 -0.35 -0.35 0.20 -0.17
14.00 -1.00 -1.00 0.24 -0.32
14.04 -1.47 -1.40 0.26 -0.14
14.08 -1.94 -1.80 0.25 -0.04
14.13 -2.48 -2.25 0.22 0.02
14.17 -2.78 -2.45 0.20 0.04
14.23 -2.33 -2.10 0.15 0.05
14.28 -1.60 -1.55 0.12 0.06
14.34 -1.00 -0.98 0.07 0.06
14.39 -0.52 -0.50 0.04 0.06
14.45 -0.14 -0.12 0.00 0.05
14.50 0.15 0.16 -0.02 0.04
14.56 0.43 0.38 -0.05 0.03
14.61 0.62 0.61 -0.07 0.02
14.67 0.76 0.74 -0.02 0.00
14.70 0.80 0.78 0.01 -0.01
14.78 0.70 0.68 0.08 -0.04
14.86 0.30 0.22 0.15 -0.09
14.93 -0.35 -0.35 0.20 -0.17
15.00 -1.00 -1.00 0.24 -0.32
15.04 -1.42 -1.40 0.26 -0.14
15.08 -1.85 -1.80 0.25 -0.04
15.13 -2.30 -2.20 0.22 0.02
15.17 -2.60 -2.40 0.20 0.04
15.23 -2.15 -2.05 0.15 0.05
}\tabZ

\pgfplotsset{
  panel/.style={
    scale only axis, width=460bp, height=160bp, anchor=south west,
    xmin=-0.1566, xmax=15.1790,
    xtick={-0.1565,1.2376,2.6317,4.0258,5.4200,6.8141,8.2082,9.6024,10.9965,12.3906,13.7848,15.1789},
    xticklabels={01-00,01-02,01-04,01-06,01-08,01-10,01-13,01-15,01-17,01-19,01-21,02-00},
    tick align=inside, major tick length=4bp,
    axis line style={black!80}, tick style={black!80, line width=0.5pt},
    tick label style={font=\fontsize{9}{10}\selectfont, text=black!85},
    xticklabel style={yshift=-3bp},
    label style={font=\fontsize{11.5}{13}\selectfont, text=black!85},
    xlabel={Time (Day-Hour)},
    xlabel style={at={(axis description cs:0.5,-0.156)}, anchor=center},
    ylabel style={font=\fontsize{12}{13}\selectfont, at={(axis description cs:-0.063,0.5)}, anchor=center},
    every axis plot/.append style={line width=0.8pt},
    legend cell align=left,
    legend style={at={(rel axis cs:0.9876,0.969)}, anchor=north east,
      draw=black!85, fill=white, line width=0.5pt,
      font=\fontsize{9}{10}\selectfont, text=black!85,
      inner xsep=2bp, inner ysep=2.5bp, row sep=2.6bp},
    legend image code/.code={\draw[##1, line width=0.7pt] (0bp,0bp) -- (27bp,0bp);},
    after end axis/.code={
      \node[anchor=south west, inner sep=0pt, font=\fontsize{8}{9}\selectfont, text=black!85]
        at (rel axis cs:0,1) [yshift=2bp] {×10\textsuperscript{-7}};
    },
  },
  obsline/.style={color=cObs},
  srpline/.style={color=cSRP, smooth, tension=0.4},
  erpline/.style={color=cERP, smooth, tension=0.4},
  modline/.style={color=cMod, smooth, tension=0.4},
}

\begin{document}
\begin{tikzpicture}
\useasboundingbox (0bp,0bp) rectangle (575bp,688bp);

\begin{axis}[panel, at={(67bp,498bp)},
  ymin=-2, ymax=1, ytick={-2,-1.5,-1,-0.5,0,0.5,1},
  yticklabels={-2,-1.5,-1,-0.5,0,0.5,1},
  ylabel={Accel-X (m/s\textsuperscript{2})}]
\addplot[obsline] table[x=u, y=obs] {\tabX};
\addplot[srpline] table[x=u, y=srp] {\tabX};
\addplot[erpline] table[x=u, y=erp] {\tabX};
\addplot[modline] table[x=u, y=mod] {\tabX};
\legend{Observed Drag, Model SRP, Model ERP, Model Drag}
\end{axis}

\begin{axis}[panel, at={(67bp,276bp)},
  ymin=-1, ymax=2.5, ytick={-1,-0.5,0,0.5,1,1.5,2,2.5},
  yticklabels={-1,-0.5,0,0.5,1,1.5,2,2.5},
  ylabel={Accel-Y (m/s\textsuperscript{2})}]
\addplot[obsline] table[x=u, y=obs] {\tabY};
\addplot[srpline] table[x=u, y=srp] {\tabY};
\addplot[erpline] table[x=u, y=erp] {\tabY};
\addplot[modline] table[x=u, y=mod] {\tabY};
\legend{Observed Drag, Model SRP, Model ERP, Model Drag}
\end{axis}

\begin{axis}[panel, at={(67bp,54bp)},
  ymin=-3, ymax=1, ytick={-3,-2,-1,0,1},
  yticklabels={-3,-2,-1,0,1},
  ylabel={Accel-Z (m/s\textsuperscript{2})},
  title={Accel-Z},
  title style={font=\fontsize{9.5}{11}\selectfont, text=black!85, at={(axis description cs:0.5,1.03)}, anchor=center}]
\addplot[obsline] table[x=u, y=obs] {\tabZ};
\addplot[srpline] table[x=u, y=srp] {\tabZ};
\addplot[erpline] table[x=u, y=erp] {\tabZ};
\addplot[modline] table[x=u, y=mod] {\tabZ};
\legend{Observed Drag, Model SRP, Model ERP, Model Drag}
\end{axis}
\end{tikzpicture}
\end{document}
